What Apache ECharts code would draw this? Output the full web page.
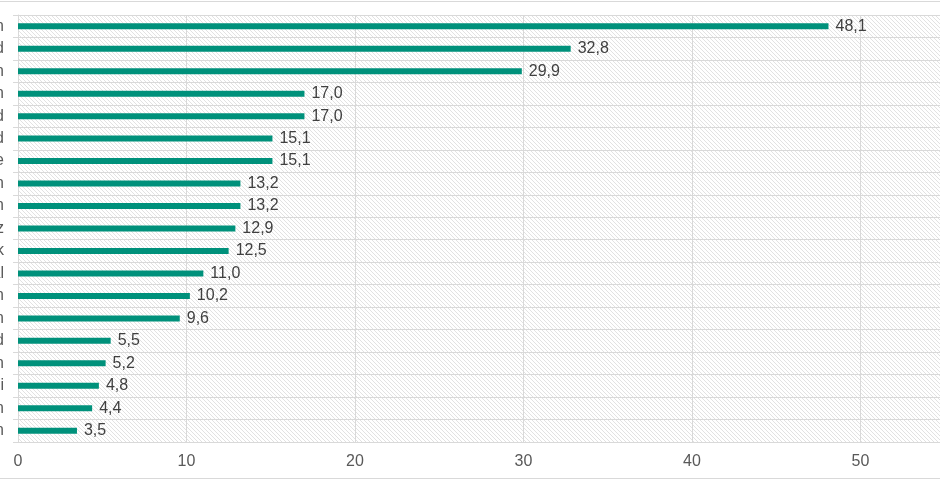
<!DOCTYPE html>
<html>
<head>
<meta charset="utf-8">
<script src="https://cdn.jsdelivr.net/npm/echarts@6/dist/echarts.min.js"></script>
<style>
html,body{margin:0;padding:0;background:#fff;}
#chart{width:940px;height:480px;}
</style>
</head>
<body>
<div id="chart"></div>
<script>
const categories = ["Schweden","Finnland","Norwegen","Spanien","Deutschland","Irland","Niederlande","Belgien","Italien","Schweiz","Dänemark","Portugal","Polen","Tschechien","Estland","Ungarn","Slowakei","Rumänien","Bulgarien"];
const values = [48.1,32.8,29.9,17.0,17.0,15.1,15.1,13.2,13.2,12.9,12.5,11.0,10.2,9.6,5.5,5.2,4.8,4.4,3.5];
const xTicks = [0,10,20,30,40,50,60];

const tile = document.createElement('canvas');
tile.width = 4; tile.height = 4;
const ctx = tile.getContext('2d');
ctx.fillStyle = '#ffffff';
ctx.fillRect(0,0,4,4);
ctx.strokeStyle = '#e2e2e2';
ctx.lineWidth = 1;
ctx.beginPath();
ctx.moveTo(-1,-1); ctx.lineTo(5,5);
ctx.moveTo(-1,3); ctx.lineTo(1,5);
ctx.moveTo(3,-1); ctx.lineTo(5,1);
ctx.stroke();
const hatch = {image: tile, repeat: 'repeat'};

const chart = echarts.init(document.getElementById('chart'));
chart.setOption({
  animation: false,
  backgroundColor: '#ffffff',
  grid: {left: 18, top: 15, width: 1011, height: 427, containLabel: false, outerBoundsMode: 'none'},
  graphic: [
    {type:'line', shape:{x1:0,y1:1.5,x2:940,y2:1.5}, style:{stroke:'#d9d9d9', lineWidth:1}},
    {type:'line', shape:{x1:0,y1:478.5,x2:940,y2:478.5}, style:{stroke:'#d9d9d9', lineWidth:1}}
  ],
  xAxis: {
    type: 'value', min: xTicks[0], max: xTicks[xTicks.length-1], interval: 10,
    axisLine: {show: false},
    axisTick: {show: false},
    axisLabel: {color: '#595959', fontSize: 16, fontFamily: 'Liberation Sans, Arial', margin: 12},
    splitLine: {show: true, lineStyle: {color: '#d9d9d9', width: 1}}
  },
  yAxis: {
    type: 'category', data: categories, inverse: true,
    axisLine: {show: true, lineStyle: {color: '#d9d9d9'}},
    axisTick: {show: true, length: 5, lineStyle: {color: '#d9d9d9'}},
    axisLabel: {color: '#595959', fontSize: 16, fontFamily: 'Liberation Sans, Arial', margin: 14},
    splitLine: {show: true, lineStyle: {color: '#d9d9d9', width: 1}},
    splitArea: {show: true, areaStyle: {color: [hatch, hatch]}}
  },
  series: [{
    type: 'bar', data: values, barWidth: 6,
    itemStyle: {color: '#00917B'},
    label: {
      show: true, position: 'right', distance: 7,
      color: '#404040', fontSize: 16, fontFamily: 'Liberation Sans, Arial',
      formatter: p => p.value.toFixed(1).replace('.', ',')
    }
  }]
});
</script>
</body>
</html>
